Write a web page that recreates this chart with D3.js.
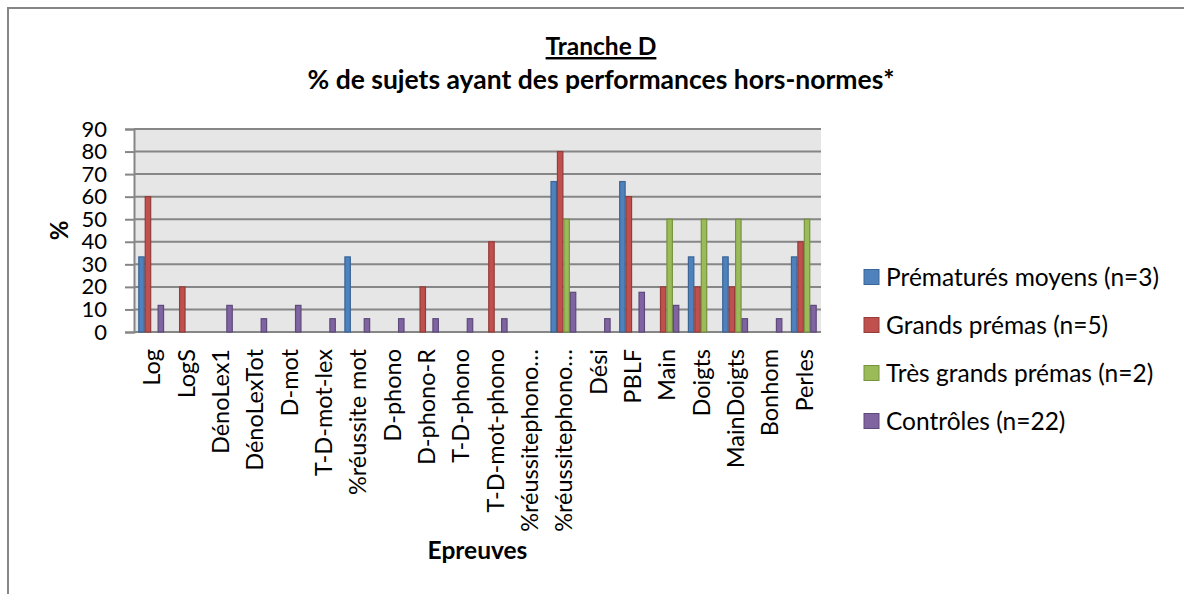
<!DOCTYPE html>
<meta charset="utf-8">
<style>

body {
  margin: 0;
  background: #fff;
}

text {
  font-family: Lato, "Open Sans", sans-serif;
  fill: #000;
}

</style>
<body>
<script src="https://cdn.jsdelivr.net/npm/d3@7/dist/d3.min.js"></script>
<script>

var width = 1184,
    height = 594;

var categories = ["Log", "LogS", "DénoLex1", "DénoLexTot", "D-mot", "T-D-mot-lex",
  "%réussite mot", "D-phono", "D-phono-R", "T-D-phono", "T-D-mot-phono",
  "%réussitephono…", "%réussitephono…", "Dési", "PBLF", "Main", "Doigts",
  "MainDoigts", "Bonhom", "Perles"];

// one value per category, in the same order
var prematuresMoyens = [33.3, 0, 0, 0, 0, 0, 33.3, 0, 0, 0, 0, 0, 66.7, 0, 66.7, 0, 33.3, 33.3, 0, 33.3],
    grandsPremas     = [60, 20, 0, 0, 0, 0, 0, 0, 20, 0, 40, 0, 80, 0, 60, 20, 20, 20, 0, 40],
    tresGrandsPremas = [0, 0, 0, 0, 0, 0, 0, 0, 0, 0, 0, 0, 50, 0, 0, 50, 50, 50, 0, 50],
    controles        = [11.8, 0, 11.8, 5.9, 11.8, 5.9, 5.9, 5.9, 5.9, 5.9, 5.9, 0, 17.6, 5.9, 17.6, 11.8, 0, 5.9, 5.9, 11.8];

var seriesNames = ["Prématurés moyens (n=3)", "Grands prémas (n=5)",
  "Très grands prémas (n=2)", "Contrôles (n=22)"];
var yTicks = [0, 10, 20, 30, 40, 50, 60, 70, 80, 90];

var fills = ["#4f81bd", "#c0504d", "#9bbb59", "#8064a2"],
    strokes = ["#3a6596", "#943c3a", "#76923f", "#5e4a7a"];

var allSeries = [prematuresMoyens, grandsPremas, tresGrandsPremas, controles];

var plotLeft = 134, plotRight = 821, plotTop = 129, plotBottom = 332;

var svg = d3.select("body").append("svg")
    .attr("width", width)
    .attr("height", height);

// chart frame (right and bottom edges fall outside the window)
svg.append("path")
    .attr("d", "M8," + (height + 5) + "V8H" + (width + 5))
    .attr("fill", "none")
    .attr("stroke", "#868686")
    .attr("stroke-width", 2);

var x = d3.scaleBand()
    .domain(d3.range(categories.length))
    .range([plotLeft, plotRight])
    .paddingInner(0.25)
    .paddingOuter(0.125);

var xs = d3.scaleBand()
    .domain(d3.range(4))
    .range([0, x.bandwidth()]);

var y = d3.scaleLinear()
    .domain([0, 90])
    .range([plotBottom, plotTop]);

svg.append("rect")
    .attr("x", plotLeft)
    .attr("y", plotTop)
    .attr("width", plotRight - plotLeft)
    .attr("height", plotBottom - plotTop)
    .attr("fill", "#e6e6e6");

svg.append("g").selectAll("line")
    .data(yTicks)
  .enter().append("line")
    .attr("x1", plotLeft)
    .attr("x2", plotRight)
    .attr("y1", function(d) { return y(d); })
    .attr("y2", function(d) { return y(d); })
    .attr("stroke", "#868686")
    .attr("stroke-width", 2);

var yAxis = svg.append("g")
    .attr("transform", "translate(" + plotLeft + ",0)")
    .call(d3.axisLeft(y).tickValues(yTicks).tickSize(9).tickPadding(18));

yAxis.select(".domain").attr("stroke", "#868686").attr("stroke-width", 2);
yAxis.selectAll(".tick line").attr("stroke", "#868686").attr("stroke-width", 2);
yAxis.selectAll(".tick text")
    .attr("font-size", 22)
    .attr("font-family", "Lato, sans-serif")
    .attr("fill", "#000");

var groups = svg.selectAll("g.cat")
    .data(categories)
  .enter().append("g")
    .attr("class", "cat")
    .attr("transform", function(d, i) { return "translate(" + x(i) + ",0)"; });

groups.selectAll("rect")
    .data(function(d, i) {
      return allSeries.map(function(s, k) { return {k: k, v: s[i]}; })
        .filter(function(e) { return e.v > 0; });
    })
  .enter().append("rect")
    .attr("x", function(d) { return xs(d.k) + 0.5; })
    .attr("y", function(d) { return y(d.v); })
    .attr("width", xs.bandwidth() - 1)
    .attr("height", function(d) { return plotBottom - y(d.v); })
    .attr("fill", function(d) { return fills[d.k]; })
    .attr("stroke", function(d) { return strokes[d.k]; })
    .attr("stroke-width", 1.2);

// category labels
svg.selectAll("text.cat")
    .data(categories)
  .enter().append("text")
    .attr("class", "cat")
    .attr("transform", function(d, i) {
      return "translate(" + (x(i) + x.bandwidth() / 2 + 9) + "," + (plotBottom + 17) + ") rotate(-90)";
    })
    .attr("text-anchor", "end")
    .attr("font-size", 23.5)
    .text(function(d) { return d; });

svg.append("text")
    .attr("x", (plotLeft + plotRight) / 2)
    .attr("y", 559)
    .attr("text-anchor", "middle")
    .attr("font-size", 24.5)
    .attr("font-weight", "bold")
    .text("Epreuves");

svg.append("text")
    .attr("transform", "translate(68," + ((plotTop + plotBottom) / 2) + ") rotate(-90)")
    .attr("text-anchor", "middle")
    .attr("font-size", 24)
    .attr("font-weight", "bold")
    .text("%");

// titles
svg.append("text")
    .attr("x", 601)
    .attr("y", 55)
    .attr("text-anchor", "middle")
    .attr("font-size", 24.5)
    .attr("font-weight", "bold")
    .attr("text-decoration", "underline")
    .text("Tranche D");

svg.append("text")
    .attr("x", 601)
    .attr("y", 89)
    .attr("text-anchor", "middle")
    .attr("font-size", 26.5)
    .attr("font-weight", "bold")
    .text("% de sujets ayant des performances hors-normes*");

// legend
var legend = svg.selectAll("g.legend")
    .data(seriesNames)
  .enter().append("g")
    .attr("class", "legend")
    .attr("transform", function(d, i) { return "translate(864," + (277 + i * 48) + ")"; });

legend.append("rect")
    .attr("y", -7.5)
    .attr("width", 15)
    .attr("height", 15)
    .attr("fill", function(d, i) { return fills[i]; })
    .attr("stroke", function(d, i) { return strokes[i]; });

legend.append("text")
    .attr("x", 22)
    .attr("y", 9)
    .attr("font-size", 24.5)
    .text(function(d) { return d; });

</script>
